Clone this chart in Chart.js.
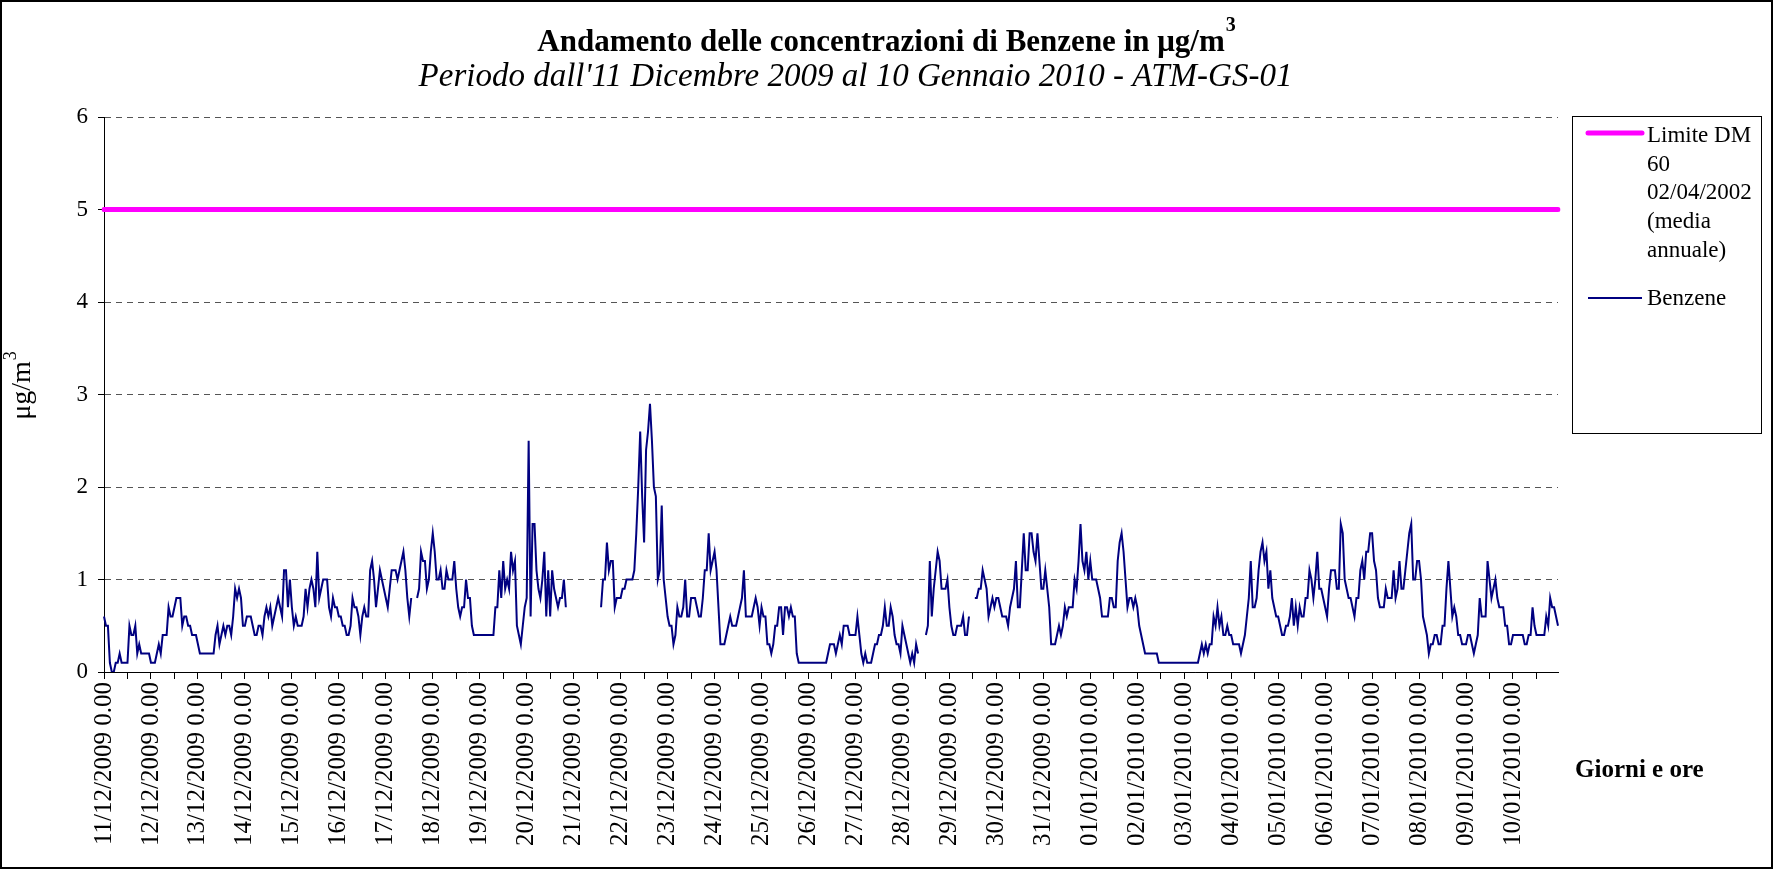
<!DOCTYPE html>
<html><head><meta charset="utf-8">
<script src="https://cdn.jsdelivr.net/npm/chart.js@4.4.0/dist/chart.umd.min.js"></script>
<style>html,body{margin:0;padding:0;background:#fff;}canvas{display:block;}</style>
</head><body>
<canvas id="c" width="1773" height="869"></canvas>
<script>
// ---- text ----
const TITLE_MAIN = "Andamento delle concentrazioni di Benzene in \u03bcg/m";
const TITLE_SUP = "3";
const SUBTITLE = "Periodo dall'11 Dicembre 2009 al 10 Gennaio 2010 - ATM-GS-01";
const Y_TITLE = "\u03bcg/m";
const X_TITLE = "Giorni e ore";
const LEGEND_LIMIT = ["Limite DM", "60", "02/04/2002", "(media", "annuale)"];
const LEGEND_BENZ = "Benzene";

// ---- x tick labels (one per day, hourly data) ----
const dayLabels = [
 "11/12/2009 0.00","12/12/2009 0.00","13/12/2009 0.00","14/12/2009 0.00","15/12/2009 0.00",
 "16/12/2009 0.00","17/12/2009 0.00","18/12/2009 0.00","19/12/2009 0.00","20/12/2009 0.00",
 "21/12/2009 0.00","22/12/2009 0.00","23/12/2009 0.00","24/12/2009 0.00","25/12/2009 0.00",
 "26/12/2009 0.00","27/12/2009 0.00","28/12/2009 0.00","29/12/2009 0.00","30/12/2009 0.00",
 "31/12/2009 0.00","01/01/2010 0.00","02/01/2010 0.00","03/01/2010 0.00","04/01/2010 0.00",
 "05/01/2010 0.00","06/01/2010 0.00","07/01/2010 0.00","08/01/2010 0.00","09/01/2010 0.00",
 "10/01/2010 0.00"];
const yTicks = [0, 1, 2, 3, 4, 5, 6];

// ---- hourly benzene values (µg/m3), one row per day, null = missing ----
const N = null;
const benzene = [
 0.6,0.5,0.5,0.1,0,0,0.1,0.1,0.2,0.1,0.1,0.1,0.1,0.5,0.4,0.4,0.5,0.2,0.3,0.2,0.2,0.2,0.2,0.2,
 0.1,0.1,0.1,0.2,0.3,0.2,0.4,0.4,0.4,0.7,0.6,0.6,0.7,0.8,0.8,0.8,0.5,0.6,0.6,0.5,0.5,0.4,0.4,0.4,
 0.3,0.2,0.2,0.2,0.2,0.2,0.2,0.2,0.2,0.4,0.5,0.3,0.4,0.5,0.4,0.5,0.5,0.4,0.6,0.9,0.8,0.9,0.8,0.5,
 0.5,0.6,0.6,0.6,0.5,0.4,0.4,0.5,0.5,0.4,0.6,0.7,0.6,0.7,0.5,0.6,0.7,0.8,0.7,0.6,1.1,1.1,0.7,1.0,
 0.7,0.5,0.6,0.5,0.5,0.5,0.6,0.9,0.7,0.9,1.0,0.9,0.7,1.3,0.8,0.9,1.0,1.0,1.0,0.7,0.6,0.8,0.7,0.7,
 0.6,0.6,0.5,0.5,0.4,0.4,0.5,0.8,0.7,0.7,0.6,0.4,0.6,0.7,0.6,0.6,1.1,1.2,1.0,0.7,0.9,1.1,1.0,0.9,
 0.8,0.7,0.9,1.1,1.1,1.1,1.0,1.1,1.2,1.3,1.1,0.8,0.6,0.8,N,N,0.8,0.9,1.3,1.2,1.2,0.9,1.0,1.3,
 1.5,1.3,1.0,1.0,1.1,0.9,0.9,1.1,1.0,1.0,1.0,1.2,0.9,0.7,0.6,0.7,0.7,1.0,0.8,0.8,0.5,0.4,0.4,0.4,
 0.4,0.4,0.4,0.4,0.4,0.4,0.4,0.4,0.7,0.7,1.1,0.8,1.2,0.9,1.0,0.9,1.3,1.1,1.2,0.5,0.4,0.3,0.5,0.7,
 0.8,2.5,0.6,1.6,1.6,1.1,0.9,0.8,1.0,1.3,0.6,1.1,0.6,1.1,0.9,0.8,0.7,0.8,0.8,1.0,0.7,N,N,N,
 N,N,N,N,N,N,N,N,N,N,N,N,N,N,0.7,1.0,1.0,1.4,1.1,1.2,1.2,0.7,0.8,0.8,
 0.8,0.9,0.9,1.0,1.0,1.0,1.0,1.1,1.5,2.0,2.6,1.9,1.4,2.4,2.6,2.9,2.5,2.0,1.9,1.0,1.1,1.8,1.0,0.8,
 0.6,0.5,0.5,0.3,0.4,0.7,0.6,0.6,0.7,1.0,0.6,0.6,0.8,0.8,0.8,0.7,0.6,0.6,0.8,1.1,1.1,1.5,1.1,1.2,
 1.3,1.1,0.7,0.3,0.3,0.3,0.4,0.5,0.6,0.5,0.5,0.5,0.6,0.7,0.8,1.1,0.6,0.6,0.6,0.6,0.7,0.8,0.7,0.5,
 0.7,0.6,0.6,0.3,0.3,0.2,0.3,0.5,0.5,0.7,0.7,0.4,0.7,0.7,0.6,0.7,0.6,0.6,0.2,0.1,0.1,0.1,0.1,0.1,
 0.1,0.1,0.1,0.1,0.1,0.1,0.1,0.1,0.1,0.1,0.2,0.3,0.3,0.3,0.2,0.3,0.4,0.3,0.5,0.5,0.5,0.4,0.4,0.4,
 0.4,0.6,0.4,0.2,0.1,0.2,0.1,0.1,0.1,0.2,0.3,0.3,0.4,0.4,0.5,0.7,0.5,0.5,0.7,0.6,0.4,0.3,0.3,0.2,
 0.5,0.4,0.3,0.2,0.1,0.2,0.1,0.3,0.2,N,N,N,0.4,0.5,1.2,0.6,0.9,1.1,1.3,1.2,0.9,0.9,0.9,1.0,
 0.7,0.5,0.4,0.4,0.5,0.5,0.5,0.6,0.4,0.4,0.6,N,N,0.8,0.8,0.9,0.9,1.1,1.0,0.9,0.6,0.7,0.8,0.7,
 0.8,0.8,0.7,0.6,0.6,0.6,0.5,0.7,0.8,0.9,1.2,0.7,0.7,1.1,1.5,1.1,1.1,1.5,1.5,1.3,1.2,1.5,1.2,0.9,
 0.9,1.1,0.9,0.7,0.3,0.3,0.3,0.4,0.5,0.4,0.5,0.7,0.6,0.7,0.7,0.7,1.0,0.9,1.2,1.6,1.2,1.1,1.3,1.0,
 1.2,1.0,1.0,1.0,0.9,0.8,0.6,0.6,0.6,0.6,0.8,0.8,0.7,0.7,1.2,1.4,1.5,1.3,1.0,0.7,0.8,0.8,0.7,0.8,
 0.7,0.5,0.4,0.3,0.2,0.2,0.2,0.2,0.2,0.2,0.2,0.1,0.1,0.1,0.1,0.1,0.1,0.1,0.1,0.1,0.1,0.1,0.1,0.1,
 0.1,0.1,0.1,0.1,0.1,0.1,0.1,0.1,0.2,0.3,0.2,0.3,0.2,0.3,0.3,0.6,0.5,0.7,0.5,0.6,0.4,0.4,0.5,0.4,
 0.4,0.3,0.3,0.3,0.3,0.2,0.3,0.4,0.6,0.8,1.2,0.7,0.7,0.8,1.1,1.3,1.4,1.2,1.3,0.9,1.1,0.8,0.7,0.6,
 0.6,0.5,0.4,0.4,0.5,0.5,0.6,0.8,0.5,0.7,0.5,0.7,0.6,0.6,0.8,0.8,1.1,1.0,0.8,1.0,1.3,0.9,0.9,0.8,
 0.7,0.6,0.9,1.1,1.1,1.1,0.9,0.9,1.6,1.5,1.0,0.9,0.8,0.8,0.7,0.6,0.8,0.8,1.1,1.2,1.0,1.3,1.3,1.5,
 1.5,1.2,1.1,0.8,0.7,0.7,0.7,0.9,0.8,0.8,0.8,1.1,0.8,0.9,1.2,0.9,0.9,1.1,1.3,1.5,1.6,1.0,1.0,1.2,
 1.2,1.0,0.6,0.5,0.4,0.2,0.3,0.3,0.4,0.4,0.3,0.3,0.5,0.5,0.9,1.2,0.9,0.6,0.7,0.6,0.4,0.4,0.3,0.3,
 0.3,0.4,0.4,0.3,0.2,0.3,0.4,0.8,0.6,0.6,0.6,1.2,1.0,0.8,0.9,1.0,0.8,0.7,0.7,0.7,0.5,0.5,0.3,0.3,
 0.4,0.4,0.4,0.4,0.4,0.4,0.3,0.3,0.4,0.4,0.7,0.5,0.4,0.4,0.4,0.4,0.4,0.6,0.5,0.8,0.7,0.7,0.6,0.5
];
const limitValues = [5, 5]; // DM 60 02/04/2002 annual limit, drawn from first to last hour

// ---- category table built from the day labels ----
const categories = [];
dayLabels.forEach(d => {
  const date = d.split(' ')[0];
  for (let h = 0; h < 24; h++) categories.push(date + ' ' + h + '.00');
});

const SERIF = '"Liberation Serif", "Times New Roman", serif';

const decor = {
  id: 'decor',
  afterDraw(chart) {
    const ctx = chart.ctx;
    const W = chart.width, H = chart.height;
    ctx.save();
    // outer frame
    ctx.strokeStyle = '#000'; ctx.lineWidth = 2;
    ctx.strokeRect(1, 1, W - 2, H - 2);
    ctx.fillStyle = '#000';
    ctx.textBaseline = 'alphabetic';
    ctx.textAlign = 'left';
    // title with superscript
    ctx.font = 'bold 31px ' + SERIF;
    const w1 = ctx.measureText(TITLE_MAIN).width;
    ctx.font = 'bold 20px ' + SERIF;
    const w2 = ctx.measureText(TITLE_SUP).width;
    const tx = W / 2 - (w1 + w2 + 1) / 2;
    ctx.font = 'bold 31px ' + SERIF;
    ctx.fillText(TITLE_MAIN, tx, 51);
    ctx.font = 'bold 20px ' + SERIF;
    ctx.fillText(TITLE_SUP, tx + w1 + 1, 31);
    // subtitle
    ctx.font = 'italic 33px ' + SERIF;
    ctx.textAlign = 'center';
    ctx.fillText(SUBTITLE, W / 2 - 31, 86);
    // y axis title (rotated)
    ctx.save();
    ctx.translate(30, 386);
    ctx.rotate(-Math.PI / 2);
    ctx.font = '28px ' + SERIF;
    const yw = ctx.measureText(Y_TITLE).width;
    ctx.font = '18px ' + SERIF;
    const yw2 = ctx.measureText(TITLE_SUP).width;
    ctx.textAlign = 'left';
    const yx = -(yw + yw2) / 2;
    ctx.font = '28px ' + SERIF;
    ctx.fillText(Y_TITLE, yx, 0);
    ctx.font = '18px ' + SERIF;
    ctx.fillText(TITLE_SUP, yx + yw + 1, -14);
    ctx.restore();
    // x axis title
    ctx.font = 'bold 25px ' + SERIF;
    ctx.textAlign = 'left';
    ctx.fillText(X_TITLE, 1575, 777);
    // legend
    ctx.strokeStyle = '#000'; ctx.lineWidth = 1;
    ctx.strokeRect(1572.5, 116.5, 189, 317);
    const ds = chart.data.datasets;
    ctx.lineCap = 'round';
    ctx.strokeStyle = ds[0].borderColor; ctx.lineWidth = 5;
    ctx.beginPath(); ctx.moveTo(1588, 133); ctx.lineTo(1642, 133); ctx.stroke();
    ctx.lineCap = 'butt';
    ctx.strokeStyle = ds[1].borderColor; ctx.lineWidth = 2;
    ctx.beginPath(); ctx.moveTo(1588, 298); ctx.lineTo(1642, 298); ctx.stroke();
    ctx.font = '23px ' + SERIF;
    ctx.fillStyle = '#000';
    LEGEND_LIMIT.forEach((s, i) => ctx.fillText(s, 1647, 142 + i * 28.7));
    ctx.fillText(LEGEND_BENZ, 1647, 305);
    ctx.restore();
  }
};

new Chart(document.getElementById('c'), {
  type: 'line',
  data: {
    labels: categories,
    datasets: [
      {
        label: LEGEND_LIMIT.join(' '),
        data: [{x: categories[0], y: limitValues[0]}, {x: categories[categories.length - 1], y: limitValues[1]}],
        borderColor: '#FF00FF', borderWidth: 5, pointRadius: 0, borderCapStyle: 'round', order: 2
      },
      {
        label: LEGEND_BENZ,
        data: benzene,
        borderColor: '#000080', borderWidth: 2, pointRadius: 0, spanGaps: false, tension: 0, order: 1
      }
    ]
  },
  options: {
    responsive: false,
    animation: false,
    devicePixelRatio: 1,
    layout: { padding: { top: 117, right: 215, bottom: 0, left: 0 } },
    plugins: { legend: { display: false }, tooltip: { enabled: false }, title: { display: false } },
    scales: {
      x: {
        type: 'category',
        offset: false,
        grid: { display: true, drawOnChartArea: false, drawTicks: true, tickLength: 7, tickColor: '#000', tickWidth: 1 },
        border: { display: true, color: '#000', width: 1 },
        ticks: {
          autoSkip: false, maxRotation: 90, minRotation: 90, padding: 3,
          color: '#000', font: { family: SERIF, size: 25 },
          callback: (v) => (v % 24 === 0 ? dayLabels[v / 24] : '')
        },
        afterBuildTicks: (s) => { s.ticks = s.ticks.filter(t => t.value % 12 === 0); },
        afterFit: (s) => { s.height = 197; }
      },
      y: {
        min: yTicks[0], max: yTicks[yTicks.length - 1],
        grid: { color: '#555', lineWidth: 1, drawTicks: true, tickLength: 6, tickColor: '#000', tickBorderDash: [] },
        border: { display: true, color: '#000', width: 1, dash: [6, 5] },
        ticks: { stepSize: 1, padding: 10, color: '#000', font: { family: SERIF, size: 23 } },
        afterBuildTicks: (s) => { s.ticks = yTicks.map(v => ({ value: v })); },
        afterFit: (s) => { s.width = 104; }
      }
    }
  },
  plugins: [decor]
});
</script>
</body></html>
